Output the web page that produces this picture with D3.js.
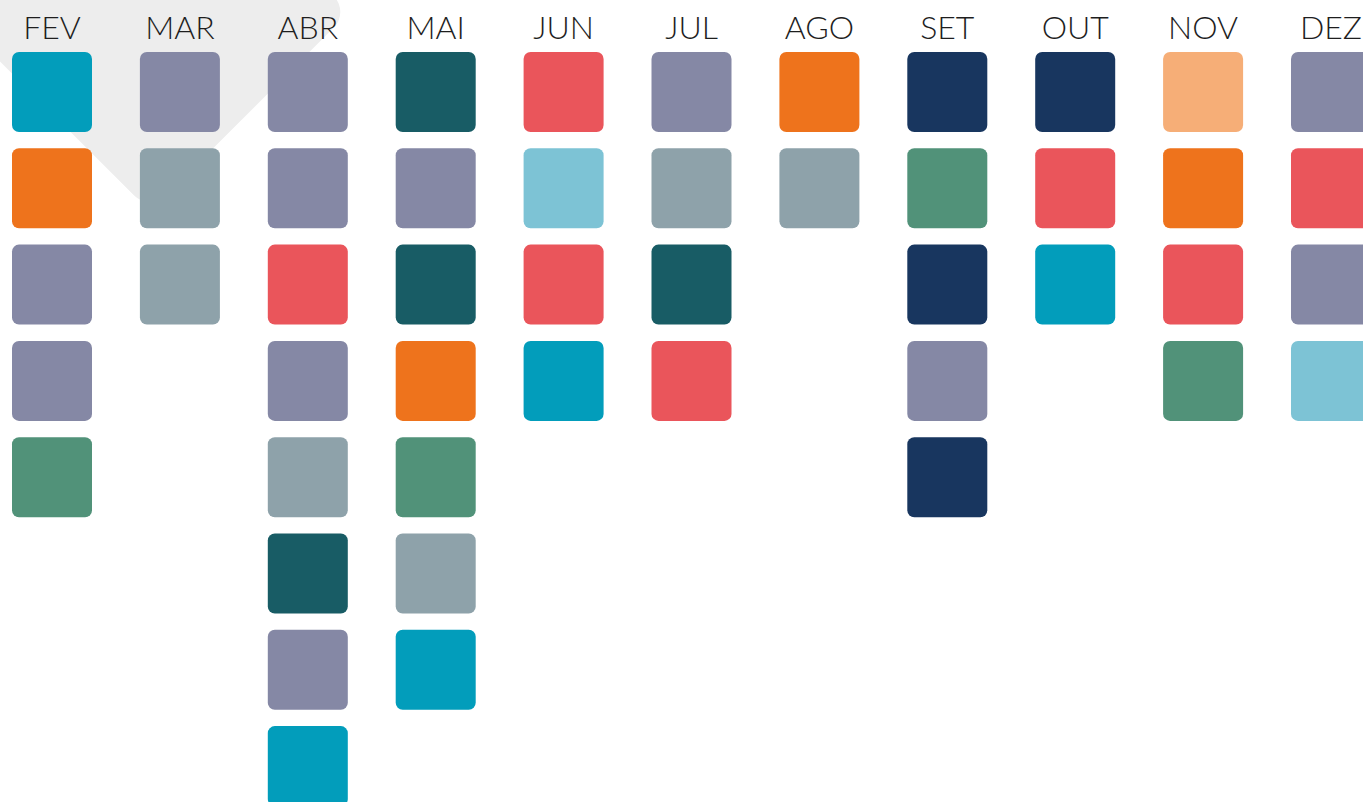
<!DOCTYPE html>
<html lang="pt">
<head>
    <meta charset="UTF-8">
    <title>Calendário</title>
    <style>
        body { margin: 0; background: #fff; }
        svg { display: block; }
        .month { font-family: "Lato Light", Lato, "Open Sans", sans-serif; font-weight: 300; font-size: 32px; fill: #1e1e1e; }
    </style>
</head>
<body>

<svg width="1363" height="802"></svg>

<script src="https://d3js.org/d3.v7.min.js"></script>
<script>
    // months shown as columns
    const months = ["FEV", "MAR", "ABR", "MAI", "JUN", "JUL", "AGO", "SET", "OUT", "NOV", "DEZ"];

    // categories and their colours
    const categories = ["azul", "laranja", "lilas", "verde", "cinza", "petroleo", "vermelho", "celeste", "marinho", "pessego"];
    const palette = ["#029dbb", "#ee731c", "#8588a5", "#519279", "#8ea2aa", "#185c65", "#ea555b", "#7dc3d5", "#18365f", "#f6ae77"];

    // one list of items per month, top to bottom
    const fev = ["azul", "laranja", "lilas", "lilas", "verde"];
    const mar = ["lilas", "cinza", "cinza"];
    const abr = ["lilas", "lilas", "vermelho", "lilas", "cinza", "petroleo", "lilas", "azul"];
    const mai = ["petroleo", "lilas", "petroleo", "laranja", "verde", "cinza", "azul"];
    const jun = ["vermelho", "celeste", "vermelho", "azul"];
    const jul = ["lilas", "cinza", "petroleo", "vermelho"];
    const ago = ["laranja", "cinza"];
    const set = ["marinho", "verde", "marinho", "lilas", "marinho"];
    const out = ["marinho", "vermelho", "azul"];
    const nov = ["pessego", "laranja", "vermelho", "verde"];
    const dez = ["lilas", "vermelho", "lilas", "celeste"];

    const columns = [fev, mar, abr, mai, jun, jul, ago, set, out, nov, dez];

    const cell = 80;
    const svg = d3.select('svg');

    const x = d3.scalePoint().domain(months).range([52, 1331]);
    const y = d3.scaleLinear().domain([0, 1]).range([52, 148.3]);
    const color = d3.scaleOrdinal().domain(categories).range(palette);

    // light grey diamond in the background
    const side = 282;
    svg.append('g')
        .attr('transform', 'translate(150,12) rotate(45)')
        .append('rect')
        .attr('x', -side / 2)
        .attr('y', -side / 2)
        .attr('width', side)
        .attr('height', side)
        .attr('rx', 22)
        .attr('fill', '#ededed');

    const items = [];
    columns.forEach((col, i) => {
        col.forEach((c, j) => items.push({month: months[i], row: j, cat: c}));
    });

    svg.append('g').selectAll('text').data(months).enter().append('text')
        .attr('class', 'month')
        .attr('x', d => x(d))
        .attr('y', 39)
        .attr('text-anchor', 'middle')
        .text(d => d);

    svg.append('g').selectAll('rect').data(items).enter().append('rect')
        .attr('x', d => x(d.month) - cell / 2)
        .attr('y', d => y(d.row))
        .attr('width', cell)
        .attr('height', cell)
        .attr('rx', 7)
        .attr('fill', d => color(d.cat));
</script>
</body>
</html>
